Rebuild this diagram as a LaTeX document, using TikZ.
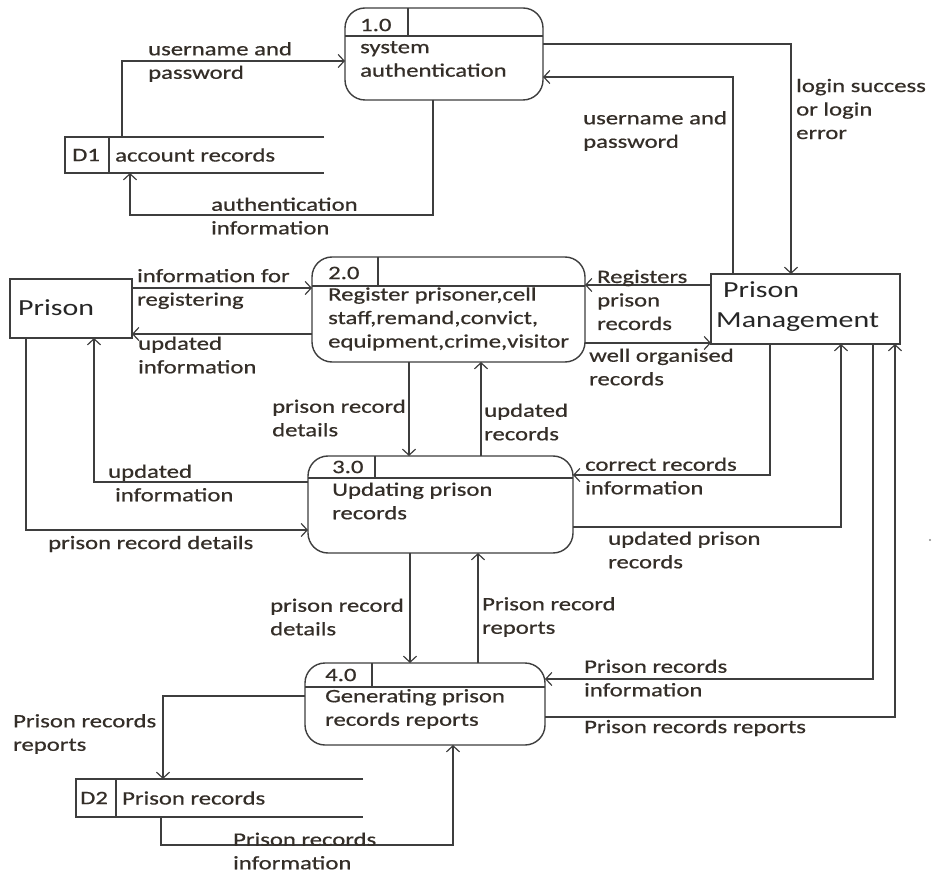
\documentclass[tikz,border=0pt]{standalone}
\usepackage{fontspec}
\setmainfont{Carlito}[FakeStretch=1.3,FakeBold=0.6]
\newfontfamily\plainfont{Carlito}[FakeStretch=1.3]
\usetikzlibrary{arrows.meta}
\definecolor{linec}{RGB}{62,62,62}
\definecolor{textc}{RGB}{52,46,40}
\newcommand\lblfont{\fontsize{19}{23.5}\selectfont}
\newcommand\bigfont{\plainfont\fontsize{23}{30}\selectfont}
\begin{document}
\begin{tikzpicture}[x=1pt,y=-1pt,
  box/.style={draw=linec, line width=1.4pt, anchor=north west, inner sep=0pt, outer sep=0pt},
  proc/.style={box, rounded corners=20pt},
  store/.style={anchor=north west, inner sep=0pt, outer sep=0pt},
  edge/.style={draw=linec, line width=1.4pt},
  flow/.style={edge, -{Straight Barb[length=6pt,width=13pt,line width=1.2pt]}},
  lbl/.style={anchor=west, inner sep=0pt, align=left, font=\lblfont, text=textc},
  big/.style={anchor=west, inner sep=0pt, align=left, font=\bigfont, text=black!85}]

\useasboundingbox[fill=white] (0,0) rectangle (942,874);

% ---------- processes ----------
\node[proc, minimum width=198pt, minimum height=92pt]  (p1) at (345,8)   {};
\node[proc, minimum width=273pt, minimum height=105pt] (p2) at (312,257) {};
\node[proc, minimum width=265pt, minimum height=97pt]  (p3) at (308,456) {};
\node[proc, minimum width=240pt, minimum height=82pt]  (p4) at (305,663) {};

% header bars and id cells
\draw[edge] ([yshift=-28pt]p1.north west) -- ([yshift=-28pt]p1.north east);
\draw[edge] ([xshift=63pt]p1.north west) -- ++(0,28);
\draw[edge] ([yshift=-29pt]p2.north west) -- ([yshift=-29pt]p2.north east);
\draw[edge] ([xshift=66pt]p2.north west) -- ++(0,29);
\draw[edge] ([yshift=-22pt]p3.north west) -- ([yshift=-22pt]p3.north east);
\draw[edge] ([xshift=67pt]p3.north west) -- ++(0,22);
\draw[edge] ([yshift=-24pt]p4.north west) -- ([yshift=-24pt]p4.north east);
\draw[edge] ([xshift=67pt]p4.north west) -- ++(0,24);

% ---------- external entities ----------
\node[box, minimum width=122pt, minimum height=59pt] (pr) at (10,279)  {};
\node[box, minimum width=189pt, minimum height=70pt] (pm) at (711,274) {};

% ---------- data stores ----------
\node[store, minimum width=259pt, minimum height=36pt] (d1) at (65,137) {};
\draw[edge] (d1.north east) -- (d1.north west) -- (d1.south west) -- (d1.south east);
\draw[edge] ([xshift=44pt]d1.north west) -- ([xshift=44pt]d1.south west);
\node[store, minimum width=287pt, minimum height=38pt] (d2) at (76,779) {};
\draw[edge] (d2.north east) -- (d2.north west) -- (d2.south west) -- (d2.south east);
\draw[edge] ([xshift=40pt]d2.north west) -- ([xshift=40pt]d2.south west);

% ---------- texts inside shapes ----------
\node[lbl] (n1) at (360,25) {1.0};
\node[lbl] (t1) at (360,59) {system\\authentication};
\node[lbl] (n2) at (328,273) {2.0};
\node[lbl] (t2) at (328,319) {Register prisoner,cell\\staff,remand,convict,\\equipment,crime,visitor};
\node[lbl] (n3) at (332,467) {3.0};
\node[lbl] (t3) at (332,501) {Updating prison\\records};
\node[lbl] (n4) at (325,675) {4.0};
\node[lbl] (t4) at (325,709) {Generating prison\\records reports};
\node[lbl] (s1) at (72,155) {D1};
\node[lbl] (s1t) at (115,155) {account records};
\node[lbl] (s2) at (80,798) {D2};
\node[lbl] (s2t) at (122,798) {Prison records};
\node[big] (prt) at (18,308) {Prison};
\node[big] (pmt) at (716,307) {\hspace*{7pt}Prison\\Management};

% ---------- data flows ----------
\draw[flow] (d1.north -| 122,0) |- (p1.west |- 0,61);
\draw[flow] (p1.south -| 433,0) -- (433,215) -| (d1.south -| 130,0);
\draw[flow] (p1.east |- 0,44) -| (pm.north -| 791,0);
\draw[flow] (pm.north -| 733,0) |- (p1.east |- 0,77);
\draw[flow] (pr.east |- 0,288) -- (p2.west |- 0,288);
\draw[flow] (p2.west |- 0,334) -- (pr.east |- 0,334);
\draw[flow] (pm.west |- 0,285) -- (p2.east |- 0,285);
\draw[flow] (p2.east |- 0,343) -- (pm.west |- 0,343);
\draw[flow] (p2.south -| 409,0) -- (p3.north -| 409,0);
\draw[flow] (p3.north -| 481,0) -- (p2.south -| 481,0);
\draw[flow] (p3.west |- 0,482) -| (pr.south -| 94,0);
\draw[flow] (pr.south -| 26,0) |- (p3.west |- 0,530);
\draw[flow] (pm.south -| 770,0) |- (p3.east |- 0,475);
\draw[flow] (p3.east |- 0,527) -| (pm.south -| 841,0);
\draw[flow] (p3.south -| 410,0) -- (p4.north -| 410,0);
\draw[flow] (p4.north -| 478,0) -- (p3.south -| 478,0);
\draw[flow] (pm.south -| 873,0) |- (p4.east |- 0,679);
\draw[flow] (p4.east |- 0,717) -| (pm.south -| 895,0);
\draw[flow] (p4.west |- 0,696) -| (d2.north -| 163,0);
\draw[flow] (d2.south -| 161,0) -- (161,845) -| (p4.south -| 453,0);

% ---------- flow labels ----------
\node[lbl] (l1)  at (148,62)  {username and\\password};
\node[lbl] (l2)  at (211,216) {authentication\\information};
\node[lbl] (l3)  at (796,109) {login success\\or login\\error};
\node[lbl] (l4)  at (583,131) {username and\\password};
\node[lbl] (l5)  at (137,289) {information for\\registering};
\node[lbl] (l6)  at (138,355) {updated\\information};
\node[lbl] (l7)  at (597,300) {Registers\\prison\\records};
\node[lbl] (l8)  at (589,367) {well organised\\records};
\node[lbl] (l9)  at (272,418) {prison record\\details};
\node[lbl] (l10) at (484,422) {updated\\records};
\node[lbl] (l11) at (108,483) {updated\\\hspace*{7pt}information};
\node[lbl] (l12) at (48,544)  {prison record details};
\node[lbl] (l14) at (585,476) {correct records\\information};
\node[lbl] (l15) at (608,550) {updated prison\\records};
\node[lbl] (l16) at (270,617) {prison record\\details};
\node[lbl] (l17) at (482,617) {Prison record\\reports};
\node[lbl] (l18) at (584,678) {Prison records\\information};
\node[lbl] (l19) at (584,728) {Prison records reports};
\node[lbl] (l20) at (13,734)  {Prison records\\reports};
\node[lbl] (l21) at (233,851) {Prison records\\information};

% stray speck at the right margin
\fill[linec!60] (930,540) circle (1.2pt);
\end{tikzpicture}
\end{document}
